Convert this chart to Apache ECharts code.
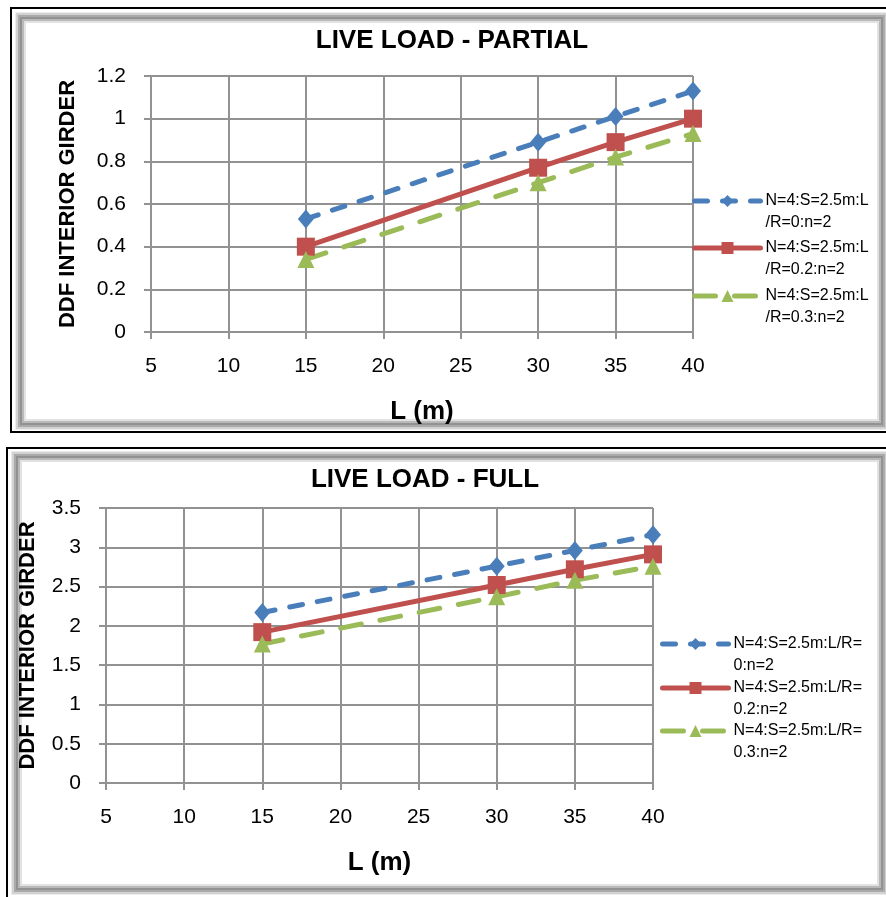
<!DOCTYPE html>
<html>
<head>
<meta charset="utf-8">
<title>DDF interior girder - live load</title>
<script src="https://cdn.jsdelivr.net/npm/echarts@6.0.0/dist/echarts.min.js"></script>
<style>
  html, body { margin: 0; padding: 0; background: #fff; overflow: hidden; }
  .outer { position: absolute; border: 2px solid #000; background: #fff; }
  .bevel {
    position: absolute; background: #fff;
    box-shadow: inset 0 0 0 1px #ececec, inset 0 0 0 3px #d2d2d2, inset 0 0 0 5px #aaaaaa,
                inset 0 0 0 7px #929292, inset 0 0 0 9px #b9b9b9, inset 0 0 0 11px #e2e2e2;
  }
  #chart { position: absolute; left: 0; top: 0; width: 886px; height: 897px; }
</style>
</head>
<body>
<div class="outer" style="left:10px;top:7px;width:900px;height:422px;"></div>
<div class="bevel" style="left:15px;top:12px;width:873px;height:418px;"></div>
<div class="outer" style="left:6px;top:447px;width:900px;height:470px;"></div>
<div class="bevel" style="left:11px;top:451px;width:877px;height:444px;"></div>
<div id="chart"></div>
<script>
// span L (m) of the points
const lengths = [15, 30, 35, 40];

// live load - partial
const partialR0 = [0.53, 0.89, 1.01, 1.13];
const partialR02 = [0.40, 0.77, 0.89, 1.00];
const partialR03 = [0.34, 0.70, 0.82, 0.93];

// live load - full
const fullR0 = [2.17, 2.76, 2.96, 3.16];
const fullR02 = [1.92, 2.52, 2.72, 2.91];
const fullR03 = [1.77, 2.37, 2.58, 2.76];

const partialNames = [
  "N=4:S=2.5m:L\n/R=0:n=2",
  "N=4:S=2.5m:L\n/R=0.2:n=2",
  "N=4:S=2.5m:L\n/R=0.3:n=2",
];
const fullNames = [
  "N=4:S=2.5m:L/R=\n0:n=2",
  "N=4:S=2.5m:L/R=\n0.2:n=2",
  "N=4:S=2.5m:L/R=\n0.3:n=2",
];

const FONT = "Liberation Sans";
const GRID_GRAY = "#929292";

const styles = [
  { color: "#4a7ebb", symbol: "diamond", symbolSize: [16, 19], type: [13, 15] },
  { color: "#c0504d", symbol: "rect", symbolSize: 18, type: "solid" },
  { color: "#9bbb59", symbol: "triangle", symbolSize: [17, 17], type: [21, 19] },
];

const toPoints = (values) => lengths.map((x, i) => [x, values[i]]);

const makeSeries = (names, sets, axisIndex) =>
  sets.map((values, i) => ({
    name: names[i],
    type: "line",
    xAxisIndex: axisIndex,
    yAxisIndex: axisIndex,
    data: toPoints(values),
    symbol: styles[i].symbol,
    symbolSize: styles[i].symbolSize,
    itemStyle: { color: styles[i].color },
    lineStyle: { color: styles[i].color, width: 5, type: styles[i].type, cap: "round" },
    emphasis: { disabled: true },
    animation: false,
  }));

// one legend per entry; a leading empty line puts the icon on the first text line
const makeLegend = (name, left, iconY, textGap) => ({
  data: [name],
  left: left,
  top: iconY - 33,
  padding: 0,
  itemWidth: 66,
  itemHeight: 15,
  itemGap: 0,
  itemTextGap: textGap,
  selectedMode: false,
  formatter: (n) => "\n" + n,
  lineStyle: { width: 5, cap: "round" },
  textStyle: {
    fontFamily: FONT,
    fontSize: 16,
    lineHeight: 22,
    color: "#000",
  },
});

const xAxisOf = (gridIndex) => ({
  type: "value",
  gridIndex: gridIndex,
  min: 5,
  max: 40,
  interval: 5,
  name: "L (m)",
  nameLocation: "middle",
  nameGap: 67,
  nameTextStyle: { fontFamily: FONT, fontSize: 26, fontWeight: "bold", color: "#000" },
  axisLine: { show: true, lineStyle: { color: GRID_GRAY, width: 2 } },
  axisTick: { show: true, length: 7, lineStyle: { color: GRID_GRAY, width: 2 } },
  splitLine: { show: true, lineStyle: { color: GRID_GRAY, width: 2 } },
  axisLabel: { fontFamily: FONT, fontSize: 21, color: "#000", margin: 24 },
});

const yAxisOf = (gridIndex, max, interval, gap) => ({
  type: "value",
  gridIndex: gridIndex,
  min: 0,
  max: max,
  interval: interval,
  name: "DDF INTERIOR GIRDER",
  nameLocation: "middle",
  nameGap: gap,
  nameTextStyle: { fontFamily: FONT, fontSize: 22, fontWeight: "bold", color: "#000" },
  axisLine: { show: true, lineStyle: { color: GRID_GRAY, width: 2 } },
  axisTick: { show: true, length: 7, lineStyle: { color: GRID_GRAY, width: 2 } },
  splitLine: { show: true, lineStyle: { color: GRID_GRAY, width: 2 } },
  axisLabel: { fontFamily: FONT, fontSize: 21, color: "#000", margin: 25 },
});

const chart = echarts.init(document.getElementById("chart"), null, { renderer: "canvas" });

chart.setOption({
  backgroundColor: "transparent",
  animation: false,
  title: [
    {
      text: "LIVE LOAD - PARTIAL",
      left: 452,
      top: 28,
      padding: 0,
      textAlign: "center",
      textStyle: { fontFamily: FONT, fontSize: 26, fontWeight: "bold", color: "#000" },
    },
    {
      text: "LIVE LOAD - FULL",
      left: 425,
      top: 467,
      padding: 0,
      textAlign: "center",
      textStyle: { fontFamily: FONT, fontSize: 26, fontWeight: "bold", color: "#000" },
    },
  ],
  legend: [
    makeLegend(partialNames[0], 692, 201, 8),
    makeLegend(partialNames[1], 692, 248, 8),
    makeLegend(partialNames[2], 692, 296, 8),
    makeLegend(fullNames[0], 660, 644, 9),
    makeLegend(fullNames[1], 660, 688, 9),
    makeLegend(fullNames[2], 660, 731, 9),
  ],
  grid: [
    { left: 151, right: 886 - 693, top: 76, height: 256, containLabel: false },
    { left: 106, right: 886 - 653, top: 508, height: 275, containLabel: false },
  ],
  xAxis: [xAxisOf(0), xAxisOf(1)],
  yAxis: [yAxisOf(0, 1.2, 0.2, 72), yAxisOf(1, 3.5, 0.5, 67)],
  series: [
    ...makeSeries(partialNames, [partialR0, partialR02, partialR03], 0),
    ...makeSeries(fullNames, [fullR0, fullR02, fullR03], 1),
  ],
});
</script>
</body>
</html>
